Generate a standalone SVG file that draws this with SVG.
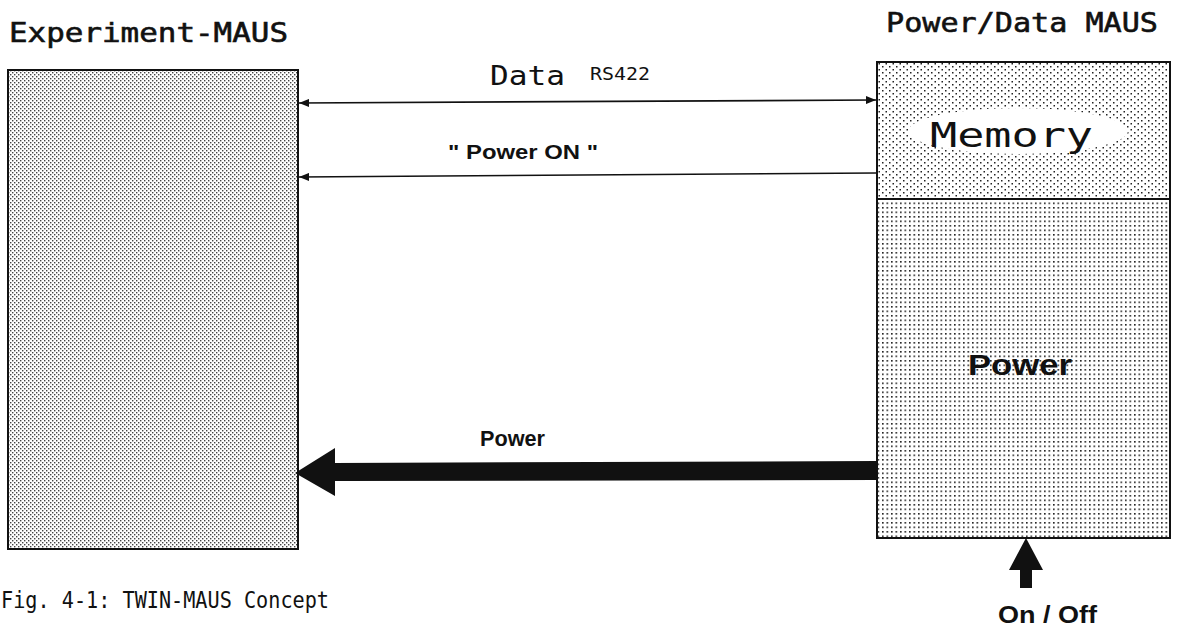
<svg xmlns="http://www.w3.org/2000/svg" width="1177" height="629" viewBox="0 0 1177 629">
<style>
.title{font-family:"DejaVu Sans Mono","Liberation Mono",monospace;font-size:27px;fill:#111;stroke:#111;stroke-width:0.6}
.mono{font-family:"DejaVu Sans Mono","Liberation Mono",monospace;fill:#111}
.lbl{font-family:"Liberation Sans",Arial,sans-serif;font-weight:bold;fill:#111}
.box{stroke:#111;stroke-width:2}
.thin{stroke:#111;stroke-width:1.6;fill:none}
</style>
<defs>
<pattern id="pLeft" width="4" height="4" patternUnits="userSpaceOnUse">
<rect width="4" height="4" fill="#fff"/>
<rect x="0" y="0" width="1.4" height="1.4" fill="#444"/>
<rect x="2" y="2" width="1.4" height="1.4" fill="#444"/>
</pattern>
<pattern id="pMem" width="7" height="6" patternUnits="userSpaceOnUse">
<rect width="7" height="6" fill="#fff"/>
<rect x="0" y="0" width="1.5" height="1.5" fill="#222"/>
<rect x="3.5" y="3" width="1.5" height="1.5" fill="#222"/>
</pattern>
<pattern id="pPow" width="4.5" height="4.5" patternUnits="userSpaceOnUse">
<rect width="4.5" height="4.5" fill="#fff"/>
<rect x="0" y="0" width="1.6" height="1.6" fill="#222"/>
</pattern>
<marker id="ah" viewBox="0 0 10 8" refX="10" refY="4" markerWidth="10" markerHeight="8" markerUnits="userSpaceOnUse" orient="auto-start-reverse">
<path d="M0,0 L10,4 L0,8 Z" fill="#111"/>
</marker>
</defs>

<text class="title" x="9" y="42" textLength="279" lengthAdjust="spacingAndGlyphs">Experiment-MAUS</text>
<text class="title" x="886" y="32" textLength="272" lengthAdjust="spacingAndGlyphs">Power/Data MAUS</text>

<g id="experiment-maus">
<rect class="box" x="8" y="70" width="290" height="479" fill="url(#pLeft)"/>
</g>

<g id="power-data-maus">
<rect class="box" x="877" y="62" width="293" height="137" fill="url(#pMem)"/>
<rect class="box" x="877" y="199" width="293" height="339" fill="url(#pPow)"/>
</g>

<g id="memory">
<ellipse cx="1018" cy="131" rx="110" ry="23" fill="#fff"/>
<text class="mono" x="930" y="147" font-size="34" textLength="163" lengthAdjust="spacingAndGlyphs">Memory</text>
</g>

<g id="power">
<text class="lbl" x="968" y="375" font-size="30" textLength="104" lengthAdjust="spacingAndGlyphs">Power</text>
</g>

<g id="connectors">
<line class="thin" x1="299" y1="103" x2="876" y2="100" marker-start="url(#ah)" marker-end="url(#ah)"/>
<line class="thin" x1="876" y1="173" x2="299" y2="177" marker-end="url(#ah)"/>
<path d="M877,461 L335,463 L335,448 L295,473 L335,496 L335,481 L877,480 Z" fill="#111"/>
<path d="M1026,538 L1043,570 L1032,570 L1032,588 L1020,588 L1020,570 L1009,570 Z" fill="#111"/>
</g>

<text class="mono" x="490" y="85" font-size="27" textLength="75" lengthAdjust="spacingAndGlyphs">Data</text>
<text class="mono" x="590" y="80" font-size="18" textLength="60" lengthAdjust="spacingAndGlyphs">RS422</text>
<text class="lbl" x="448" y="159" font-size="20" textLength="150" lengthAdjust="spacingAndGlyphs">" Power ON "</text>
<text class="lbl" x="480" y="446" font-size="22" textLength="65" lengthAdjust="spacingAndGlyphs">Power</text>
<text class="lbl" x="998" y="623" font-size="24" textLength="99" lengthAdjust="spacingAndGlyphs">On / Off</text>
<text class="mono" x="1" y="608" font-size="23" textLength="328" lengthAdjust="spacingAndGlyphs">Fig. 4-1: TWIN-MAUS Concept</text>
</svg>
